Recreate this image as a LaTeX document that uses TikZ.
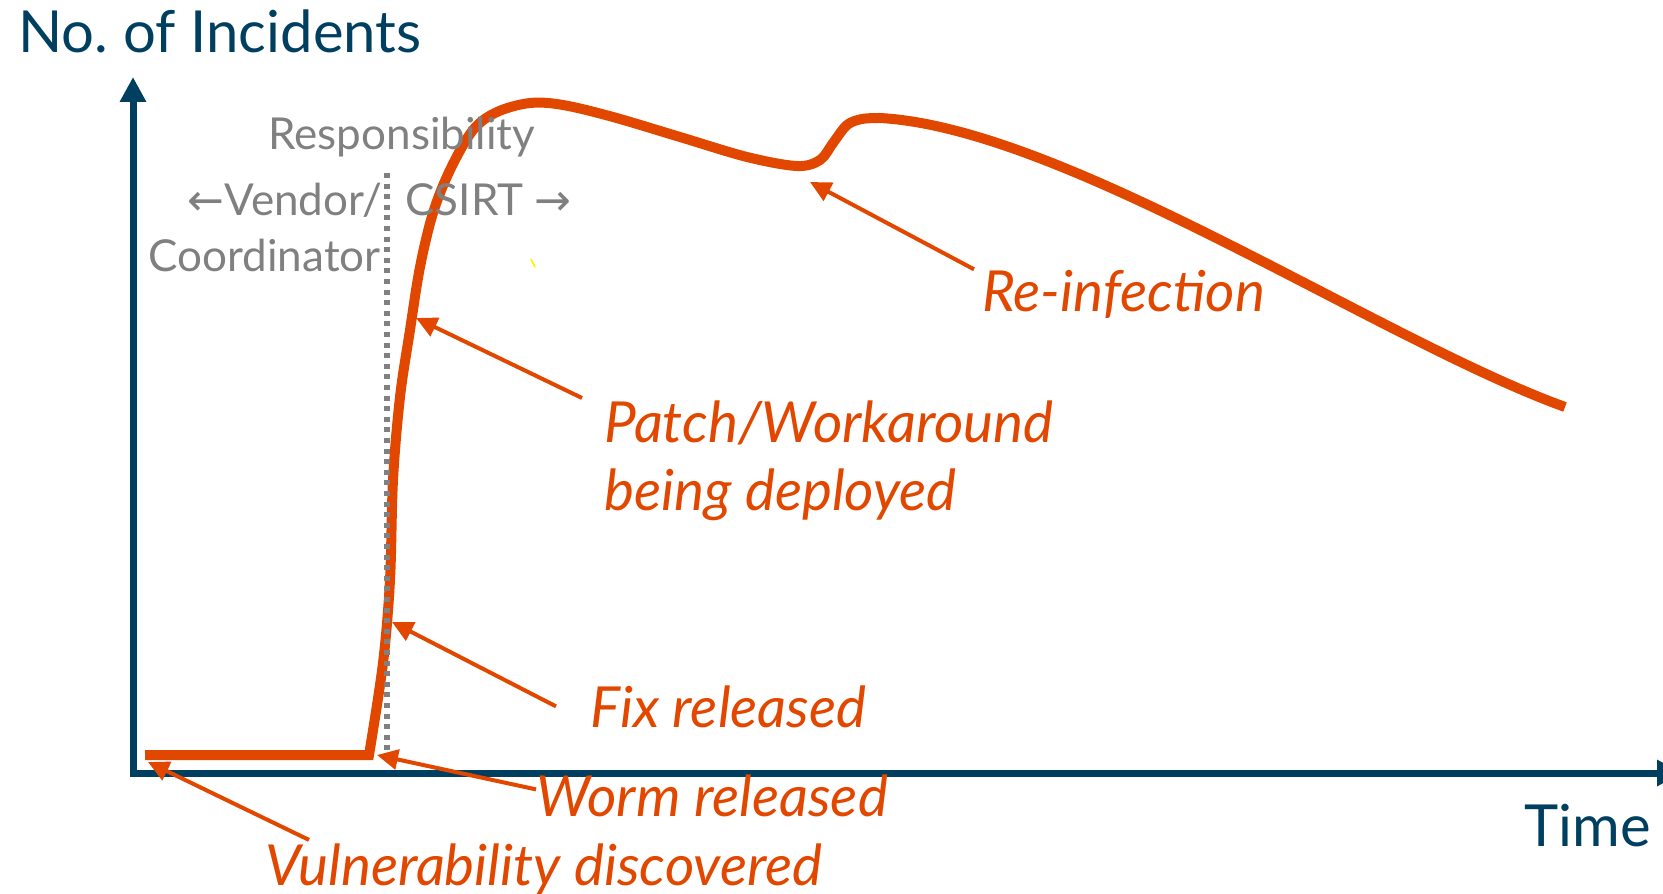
\documentclass[tikz,border=0pt]{standalone}
\usepackage{fontspec}
\setmainfont{Lato}
\newfontfamily\arrowfont{DejaVu Sans}
\usetikzlibrary{arrows.meta}
\definecolor{axisblue}{RGB}{0,63,95}
\definecolor{incorange}{RGB}{226,71,0}
\definecolor{respgray}{RGB}{128,128,128}
\frenchspacing

\begin{document}
\begin{tikzpicture}[x=0.5pt,y=0.5pt,yscale=-1,
  axis/.style={draw=axisblue,line width=3.5pt,{Triangle[length=12.5pt,width=12.5pt]}-{Triangle[length=12.5pt,width=12.5pt]}},
  curve/.style={draw=incorange,line width=5pt},
  pointer/.style={draw=incorange,line width=2pt,-{Triangle[length=10.5pt,width=10pt]}},
  split/.style={draw=respgray,line width=2.6pt,dash pattern=on 2.5pt off 2.8pt},
  axislabel/.style={text=axisblue,inner sep=0pt,font=\fontsize{29}{34}\selectfont},
  resplabel/.style={text=respgray,inner sep=0pt,font=\fontsize{22}{26}\selectfont},
  eventlabel/.style={text=incorange,inner sep=0pt,align=left,font=\fontsize{28.3}{34}\selectfont\itshape}]
\useasboundingbox (0,0) rectangle (1663,893);

%Axes
\coordinate (ytip) at (133,77);
\coordinate (origin) at (133,773);
\coordinate (xtip) at (1682,773);
\draw[axis] (ytip) -- (origin) -- (xtip);

%Incident curve
\draw[curve] (145,755) -- plot[smooth,tension=0.55] coordinates {(369,755) (383,663) (390,580) (393,480) (400,397) (410,330) (420,267) (433,213) (450,170) (473,130) (497,112) (530,103) (563,105) (613,117) (680,137) (747,157) (797,166) (820,160) (833,143) (847,125) (862,119) (880,118)}
  .. controls (1065,128) and (1380,340) .. (1565,407);

%Responsibility split
\coordinate (splittop) at (387,173);
\coordinate (splitbot) at (387,763);
\draw[split] (splittop) -- (splitbot);

% Text Node
\node[resplabel,anchor=base west] (resp) at (268,150) {Responsibility};
% Text Node
\node[resplabel,anchor=base east] (vendor) at (383,215) {{\arrowfont ←}Vendor/};
% Text Node
\node[resplabel,anchor=base west] (csirt) at (405,215) {CSIRT {\arrowfont →}};
% Text Node
\node[resplabel,anchor=base east] (coord) at (381,271) {Coordinator};

%stray mark
\draw[yellow,line width=0.8pt] (531,259) -- (535,267);

% Text Node
\node[axislabel,anchor=base west] (ylabel) at (18,53) {No. of Incidents};
% Text Node
\node[axislabel,anchor=base west] (xlabel) at (1524,846) {Time};

% Text Node
\node[eventlabel,anchor=base west] (reinf) at (982,311) {Re-infection};
% Text Node
\node[eventlabel,anchor=north west] (patch) at (604,400) {Patch/Workaround\\being deployed};
% Text Node
\node[eventlabel,anchor=base west] (fix) at (590,727) {Fix released};
% Text Node
\node[eventlabel,anchor=base west] (worm) at (536,816) {Worm released};
% Text Node
\node[eventlabel,anchor=base west] (vuln) at (265,885) {Vulnerability discovered};

%Pointers
\coordinate (reinfpt) at (810,182);
\coordinate (patchpt) at (416,318);
\coordinate (fixpt) at (392,622);
\coordinate (wormpt) at (377,755);
\coordinate (vulnpt) at (148,762);
\draw[pointer] ([xshift=-4pt]reinf.north west) -- (reinfpt);
\draw[pointer] ([xshift=-11pt,yshift=-1pt]patch.north west) -- (patchpt);
\draw[pointer] ([xshift=-17pt]fix.west) -- (fixpt);
\draw[pointer] ([yshift=-3pt]worm.west) -- (wormpt);
\draw[pointer] ([xshift=22pt,yshift=-1.5pt]vuln.north west) -- (vulnpt);

\end{tikzpicture}
\end{document}
